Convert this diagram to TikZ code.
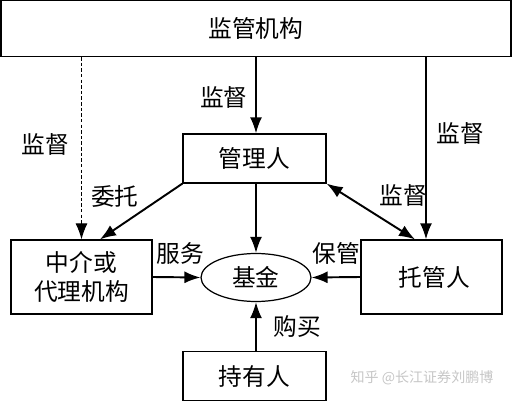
\documentclass[tikz,border=0pt]{standalone}
\usepackage{fontspec}
\setmainfont{Noto Sans CJK SC}
\usetikzlibrary{shapes.geometric,arrows.meta}

\begin{document}
\begin{tikzpicture}[x=0.02cm, y=-0.02cm,
        >={Latex[length=3.2mm,width=2.4mm]},
        box/.style={draw, line width=0.7pt, inner sep=0pt, align=center, font=\fontsize{13.5}{16.5}\selectfont},
        lbl/.style={font=\fontsize{13.5}{16.5}\selectfont},
        link/.style={->, line width=1.1pt}]
        \useasboundingbox (0,0) rectangle (512,402);

        \node [box, minimum width=10.2cm, minimum height=1.12cm] (reg) at (256,28.5) {监管机构};
        \node [box, minimum width=2.86cm, minimum height=0.98cm] (mgr) at (254.5,158.5) {管理人};
        \node [box, minimum width=2.82cm, minimum height=1.48cm] (agent) at (81.5,277) {中介或\\代理机构};
        \node [box, minimum width=2.82cm, minimum height=1.48cm] (cust) at (431.5,277) {\hspace{0.12cm}托管人};
        \node [box, ellipse, minimum width=2.2cm, minimum height=0.96cm] (fund) at (256,277.5) {基金};
        \node [box, minimum width=2.86cm, minimum height=0.98cm] (hold) at (254.5,376) {持有人};

        \coordinate (custtop) at ([xshift=-0.11cm]cust.north);

        \draw[link] (reg.south -| fund) -- node [lbl, left, pos=0.53, xshift=-0.03cm] {监督} (mgr.north -| fund);
        \draw[link, dash pattern=on 2pt off 1.2pt, line width=0.6pt] (reg.south -| agent) -- node [lbl, left, pos=0.48, xshift=-0.12cm] {监督} (agent.north);
        \draw[link] (reg.south -| custtop) -- node [lbl, right, pos=0.42, xshift=0.08cm] {监督} (custtop);
        \draw[link] (mgr.south west) -- node [lbl, left, pos=0.23, xshift=-0.36cm] {委托} ([xshift=0.37cm]agent.north);
        \draw[link, <->] (mgr.south east) -- node [lbl, above right, pos=0.55, xshift=-0.05cm, yshift=0.03cm] {监督} ([xshift=-0.33cm]cust.north);
        \draw[link] (mgr.south -| fund) -- (fund.north);
        \draw[link] (agent.east) -- node [lbl, above, yshift=0.12cm, xshift=0.08cm] {服务} (fund.west);
        \draw[link] (cust.west) -- node [lbl, above, yshift=0.12cm] {保管} (fund.east);
        \draw[link] (hold.north -| fund) -- node [lbl, right, xshift=0.22cm] {购买} (fund.south);

        \node [text=gray!45, font=\fontsize{8}{10}\selectfont] (mark) at (422,378) {知乎 @长江证券刘鹏博};
\end{tikzpicture}
\end{document}
